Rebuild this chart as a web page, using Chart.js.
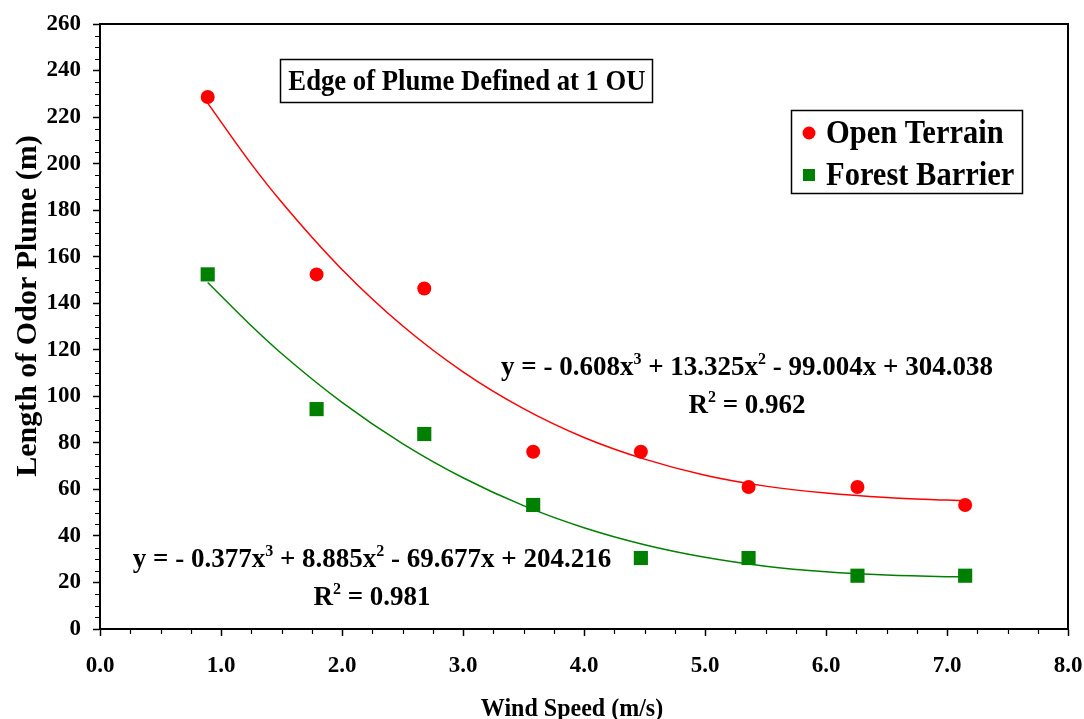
<!DOCTYPE html>
<html>
<head>
<meta charset="utf-8">
<script src="https://cdn.jsdelivr.net/npm/chart.js@4.4.1/dist/chart.umd.min.js"></script>
<style>
  html, body { margin: 0; padding: 0; background: #fff; }
  #wrap { width: 1084px; height: 719px; position: relative; }
</style>
</head>
<body>
<div id="wrap"><canvas id="grafico"></canvas></div>
<script>
// pontos medidos
var windSpeed     = [0.89, 1.79, 2.68, 3.58, 4.47, 5.36, 6.26, 7.15];
var openTerrain   = [228.6, 152.4, 146.3, 76.2, 76.2, 61.0, 61.0, 53.3];
var forestBarrier = [152.4, 94.5, 83.8, 53.3, 30.5, 30.5, 22.9, 22.9];

// curvas de tendencia
var trendX      = [0.89, 1.25, 1.5, 2.0, 2.5, 3.0, 3.5, 4.0, 4.5, 5.0, 5.5, 6.0, 6.5, 7.0, 7.15];
var trendOpen   = [226.0, 199.9, 183.5, 154.5, 130.3, 110.5, 94.7, 82.3, 73.0, 66.1, 61.4, 58.4, 56.5, 55.4, 55.1];
var trendForest = [148.9, 130.3, 118.4, 97.4, 79.7, 65.0, 53.0, 43.5, 36.2, 30.8, 27.0, 24.6, 23.2, 22.5, 22.4];

var xTicks = [0, 1, 2, 3, 4, 5, 6, 7, 8];
var yTicks = [0, 20, 40, 60, 80, 100, 120, 140, 160, 180, 200, 220, 240, 260];

var titulo   = "Edge of Plume Defined at 1 OU";
var tituloX  = "Wind Speed (m/s)";
var tituloY  = "Length of Odor Plume (m)";
var eqOpen   = [["y = - 0.608x"], ["3", 1], [" + 13.325x"], ["2", 1], [" - 99.004x + 304.038"]];
var r2Open   = [["R"], ["2", 1], [" = 0.962"]];
var eqForest = [["y = - 0.377x"], ["3", 1], [" + 8.885x"], ["2", 1], [" - 69.677x + 204.216"]];
var r2Forest = [["R"], ["2", 1], [" = 0.981"]];

var FONTE = "'Liberation Serif', 'Times New Roman', serif";
var VERMELHO = "#ff0000";
var VERDE = "#008000";

function pares(xs, ys) {
    return xs.map(function (x, i) { return { x: x, y: ys[i] }; });
}

// texto com expoentes, centrado em cx
function desenharTexto(ctx, partes, cx, y, tam) {
    var tamSup = Math.round(tam * 0.6);
    var largura = 0;
    partes.forEach(function (p) {
        ctx.font = "bold " + (p[1] ? tamSup : tam) + "px " + FONTE;
        largura += ctx.measureText(p[0]).width;
    });
    var x = cx - largura / 2;
    ctx.textAlign = "left";
    ctx.textBaseline = "alphabetic";
    partes.forEach(function (p) {
        ctx.font = "bold " + (p[1] ? tamSup : tam) + "px " + FONTE;
        ctx.fillText(p[0], x, p[1] ? y - tam * 0.4 : y);
        x += ctx.measureText(p[0]).width;
    });
}

// texto um pouco esticado na vertical
function textoAlto(ctx, txt, x, y, esc) {
    ctx.save();
    ctx.translate(x, y);
    ctx.scale(1, esc);
    ctx.fillText(txt, 0, 0);
    ctx.restore();
}

var extras = {
    id: "extras",
    afterDraw: function (chart) {
        var ctx = chart.ctx;
        var a = chart.chartArea;
        var sx = chart.scales.x, sy = chart.scales.y;
        ctx.save();
        ctx.fillStyle = "#000";
        ctx.strokeStyle = "#000";

        // moldura
        ctx.lineWidth = 2;
        ctx.beginPath();
        ctx.moveTo(a.left, a.top); ctx.lineTo(a.right, a.top); ctx.lineTo(a.right, a.bottom);
        ctx.stroke();

        // ticks menores
        ctx.lineWidth = 1.2;
        ctx.beginPath();
        for (var v = 5; v < 260; v += 5) {
            if (v % 20 === 0) continue;
            var py = Math.round(sy.getPixelForValue(v)) + 0.5;
            ctx.moveTo(a.left - 5, py); ctx.lineTo(a.left, py);
        }
        for (var k = 1; k < 32; k++) {
            if (k % 4 === 0) continue;
            var px = Math.round(sx.getPixelForValue(k * 0.25)) + 0.5;
            ctx.moveTo(px, a.bottom); ctx.lineTo(px, a.bottom + 5);
        }
        ctx.stroke();

        // titulos dos eixos
        ctx.textAlign = "center";
        ctx.textBaseline = "alphabetic";
        ctx.font = "bold 24px " + FONTE;
        textoAlto(ctx, tituloX, 572, 716, 1.08);
        ctx.save();
        ctx.translate(36, 306);
        ctx.rotate(-Math.PI / 2);
        ctx.font = "bold 30px " + FONTE;
        ctx.fillText(tituloY, 0, 0);
        ctx.restore();

        // caixa do titulo
        ctx.lineWidth = 1.5;
        ctx.strokeRect(280.5, 59.5, 372, 43);
        ctx.font = "bold 26.7px " + FONTE;
        textoAlto(ctx, titulo, 467, 90, 1.1);

        // legenda
        ctx.strokeRect(791.5, 110.5, 231, 83);
        ctx.fillStyle = VERMELHO;
        ctx.beginPath(); ctx.arc(809, 133, 6.5, 0, Math.PI * 2); ctx.fill();
        ctx.fillStyle = VERDE;
        ctx.fillRect(803, 169, 12, 12);
        ctx.fillStyle = "#000";
        ctx.font = "bold 30.5px " + FONTE;
        ctx.textAlign = "left";
        textoAlto(ctx, chart.data.datasets[0].label, 826, 143, 1.08);
        textoAlto(ctx, chart.data.datasets[1].label, 826, 185, 1.08);

        // equacoes
        desenharTexto(ctx, eqOpen, 747, 375, 27);
        desenharTexto(ctx, r2Open, 747, 413, 27);
        desenharTexto(ctx, eqForest, 372, 567, 27);
        desenharTexto(ctx, r2Forest, 372, 605, 27);
        ctx.restore();
    }
};

new Chart(document.getElementById("grafico"), {
    type: "scatter",
    data: {
        datasets: [{
            label: "Open Terrain",
            data: pares(windSpeed, openTerrain),
            backgroundColor: VERMELHO,
            borderColor: VERMELHO,
            pointStyle: "circle",
            pointRadius: 7,
            pointBorderWidth: 0,
            order: 1
        }, {
            label: "Forest Barrier",
            data: pares(windSpeed, forestBarrier),
            backgroundColor: VERDE,
            borderColor: VERDE,
            pointStyle: "rect",
            pointRadius: 10,
            pointBorderWidth: 0,
            order: 1
        }, {
            label: "trend open",
            type: "line",
            data: pares(trendX, trendOpen),
            borderColor: VERMELHO,
            borderWidth: 1.5,
            pointRadius: 0,
            cubicInterpolationMode: "monotone",
            fill: false,
            order: 2
        }, {
            label: "trend forest",
            type: "line",
            data: pares(trendX, trendForest),
            borderColor: VERDE,
            borderWidth: 1.5,
            pointRadius: 0,
            cubicInterpolationMode: "monotone",
            fill: false,
            order: 2
        }]
    },
    options: {
        responsive: true,
        maintainAspectRatio: false,
        animation: false,
        layout: { padding: { top: 24, right: 16, left: 0, bottom: 0 } },
        plugins: {
            legend: { display: false },
            tooltip: { enabled: false }
        },
        scales: {
            x: {
                type: "linear",
                min: 0, max: 8,
                afterBuildTicks: function (s) { s.ticks = xTicks.map(function (v) { return { value: v }; }); },
                afterFit: function (s) { s.height = 90; s.paddingLeft = 0; s.paddingRight = 0; },
                grid: { drawOnChartArea: false, drawTicks: true, tickLength: 7, tickColor: "#000", tickWidth: 1.5 },
                border: { display: true, color: "#000", width: 2 },
                ticks: {
                    color: "#000",
                    padding: 16,
                    maxRotation: 0,
                    font: { family: FONTE, size: 23, weight: "bold" },
                    callback: function (v) { return v.toFixed(1); }
                }
            },
            y: {
                type: "linear",
                min: 0, max: 260,
                afterBuildTicks: function (s) { s.ticks = yTicks.map(function (v) { return { value: v }; }); },
                afterFit: function (s) { s.width = 100; s.paddingTop = 0; s.paddingBottom = 0; },
                grid: { drawOnChartArea: false, drawTicks: true, tickLength: 7, tickColor: "#000", tickWidth: 1.5 },
                border: { display: true, color: "#000", width: 2 },
                ticks: {
                    color: "#000",
                    padding: 12,
                    font: { family: FONTE, size: 23, weight: "bold" }
                }
            }
        }
    },
    plugins: [extras]
});
</script>
</body>
</html>
